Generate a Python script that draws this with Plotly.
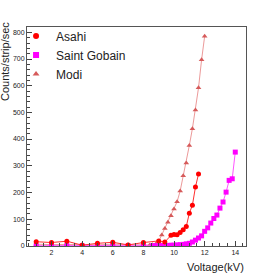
import plotly.graph_objects as go

asahi_x = [1, 2, 3, 4, 5, 6, 7, 8, 9.0, 9.4, 9.8, 10.0, 10.2, 10.4, 10.6, 10.8, 11.0, 11.2, 11.4, 11.6]
asahi_y = [15, 12, 17, 2, 9, 13, 3, 12, 18, 14, 39, 42, 41, 50, 60, 72, 122, 152, 220, 269]

sg_x = [1, 2, 3, 4, 5, 6, 7, 8, 8.6, 8.8, 9.0, 9.2, 9.4, 9.6, 9.8, 10.0, 10.2, 10.4, 10.6, 10.8, 11.0, 11.2,
        11.4, 11.6, 11.8, 12.0, 12.2, 12.4, 12.6, 12.8, 13.0, 13.2, 13.4, 13.6, 13.8, 14.0]
sg_y = [0, 0, 0, 0, 0, 0, 0, 0, 0, 0, 0, 1, 1, 1, 2, 2, 3, 4, 5, 7, 9, 14,
        21, 29, 37, 54, 67, 85, 102, 115, 141, 164, 201, 245, 251, 351]

modi_x = [1, 2, 3, 4, 5, 6, 7, 8, 8.4, 8.6, 8.8, 9.0, 9.2, 9.4, 9.6, 9.8, 10.0, 10.2, 10.4, 10.6, 10.8,
          11.0, 11.2, 11.4, 11.6, 11.8, 12.0]
modi_y = [6, 4, 5, 5, 3, 6, 4, 4, 2, 4, 6, 16, 40, 65, 88, 112, 138, 165, 205, 262, 310,
          376, 439, 509, 592, 697, 785]

series = [
    ("Modi", modi_x, modi_y, "triangle-up", "#d65a5a", "#ec9a9a"),
    ("Saint Gobain", sg_x, sg_y, "square", "#ff00ff", "#ff55ff"),
    ("Asahi", asahi_x, asahi_y, "circle", "#ff0000", "#ff3030"),
]

fig = go.Figure()
for name, xs, ys, sym, mcol, lcol in series:
    fig.add_trace(go.Scatter(x=xs, y=ys, name=name, mode="lines+markers", showlegend=False,
                             line=dict(color=lcol, width=1),
                             marker=dict(symbol=sym, size=5, color=mcol)))
for name, xs, ys, sym, mcol, lcol in reversed(series):
    fig.add_trace(go.Scatter(x=[None], y=[None], name=name, mode="markers", showlegend=True,
                             marker=dict(symbol=sym, size=6, color=mcol)))

fig.update_layout(
    width=273, height=273,
    margin=dict(l=27, r=27, t=27, b=27),
    paper_bgcolor="white", plot_bgcolor="white",
    font=dict(family="Liberation Sans Narrow, Liberation Sans, Arial, sans-serif", color="#222"),
    showlegend=True,
    legend=dict(x=-0.05, y=1.025, xanchor="left", yanchor="top", traceorder="normal",
                bgcolor="rgba(255,255,255,0)", font=dict(size=12), itemwidth=30,
                tracegroupgap=0),
    xaxis=dict(range=[0.4, 14.7], tickvals=[2, 4, 6, 8, 10, 12, 14], ticks="inside", ticklen=5,
               tickcolor="#444", tickfont=dict(size=7), showgrid=False, zeroline=False,
               showline=True, linecolor="#555", linewidth=1, mirror=True,
               minor=dict(ticks="inside", ticklen=3, dtick=0.5, tickcolor="#444")),
    yaxis=dict(range=[-1, 820], tickvals=[0, 100, 200, 300, 400, 500, 600, 700, 800], ticks="inside",
               ticklen=5, tickcolor="#444", tickfont=dict(size=7), showgrid=False, zeroline=False,
               showline=True, linecolor="#555", linewidth=1, mirror=True,
               minor=dict(ticks="inside", ticklen=3, dtick=20, tickcolor="#444")),
    annotations=[
        dict(text="Counts/strip/sec", xref="paper", yref="paper", x=-0.1, y=1.03, xanchor="center",
             yanchor="top", textangle=-90, showarrow=False,
             font=dict(family="Liberation Sans, Arial, sans-serif", size=11, color="#222")),
        dict(text="Voltage(kV)", xref="paper", yref="paper", x=1.0, y=-0.06, xanchor="right",
             yanchor="top", showarrow=False, font=dict(size=11, color="#222")),
    ],
)

fig.write_html("out.html", config={"displayModeBar": False},
               post_script="document.body.style.margin='0px';document.body.style.padding='0px';")
